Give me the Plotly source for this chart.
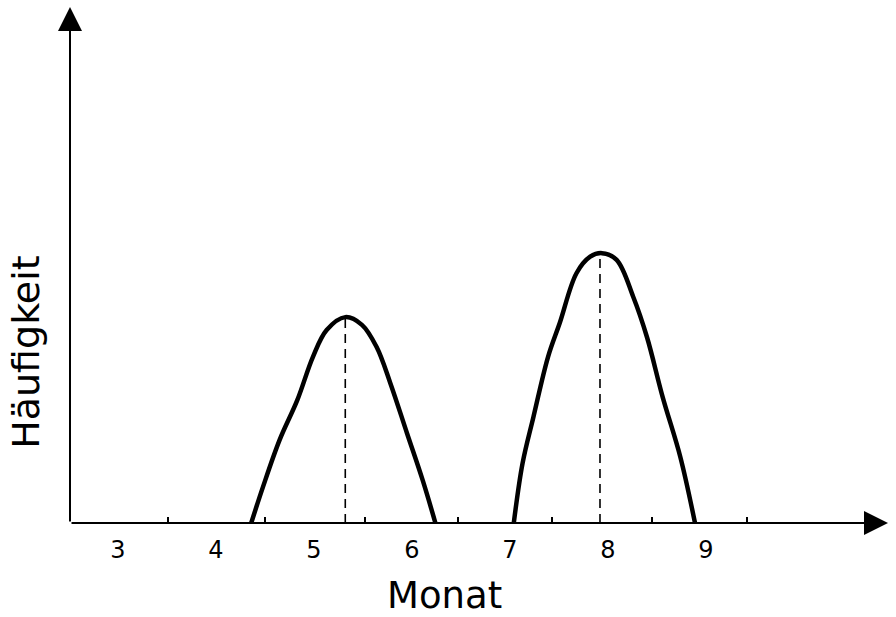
import plotly.graph_objects as go

# Zeitachse (Monat) und Häufigkeit (relative Einheiten, 0-100)
monat_a = [4.36, 4.48, 4.65, 4.83, 4.99, 5.13, 5.32, 5.49, 5.64, 5.78, 5.95, 6.11, 6.24]
haeuf_a = [0.0, 7.0, 16.1, 23.8, 32.2, 37.4, 39.9, 38.4, 34.1, 27.1, 17.4, 8.3, 0.0]

monat_b = [7.04, 7.13, 7.24, 7.39, 7.51, 7.68, 7.82, 7.94, 8.09, 8.26, 8.40, 8.56, 8.74, 8.89]
haeuf_b = [0.0, 11.6, 20.5, 32.2, 38.8, 48.4, 51.6, 52.3, 51.0, 43.8, 36.0, 24.4, 12.8, 0.0]

# Gipfel (gestrichelte Senkrechte)
gipfel_x = [5.32, 7.92]
gipfel_y = [39.9, 52.3]

monat_ticks = [3, 4, 5, 6, 7, 8, 9]
zwischen_ticks = [3.51, 4.5, 5.52, 6.47, 7.43, 8.45, 9.42]

X_MIN, X_MAX = 2.51, 10.86
Y_MAX = 100

fig = go.Figure()

# gestrichelte Linien unter den Gipfeln
for gx, gy in zip(gipfel_x, gipfel_y):
    fig.add_trace(go.Scatter(
        x=[gx, gx], y=[0, gy], mode="lines",
        line=dict(color="black", width=1.6, dash="9px,6px"),
        showlegend=False, hoverinfo="skip",
    ))

# die beiden Kurven
for mx, hy in [(monat_a, haeuf_a), (monat_b, haeuf_b)]:
    fig.add_trace(go.Scatter(
        x=mx, y=hy, mode="lines",
        line=dict(color="black", width=4.5, shape="spline", smoothing=1.0),
        showlegend=False, hoverinfo="skip",
    ))

# Achsen als Pfeile
fig.add_annotation(x=X_MAX, y=0, ax=X_MIN, ay=0, xref="x", yref="y",
                   axref="x", ayref="y", showarrow=True, arrowhead=2,
                   arrowsize=2.4, arrowwidth=2, arrowcolor="black", text="")
fig.add_annotation(x=X_MIN, y=Y_MAX, ax=X_MIN, ay=0, xref="x", yref="y",
                   axref="x", ayref="y", showarrow=True, arrowhead=2,
                   arrowsize=2.4, arrowwidth=2, arrowcolor="black", text="")

# Achsentitel
fig.add_annotation(text="Monat", x=0.458, y=-0.141, xref="paper", yref="paper",
                   xanchor="center", yanchor="middle", showarrow=False,
                   font=dict(family="DejaVu Sans", size=37, color="black"))
fig.add_annotation(text="Häufigkeit", x=-0.053, y=0.331, xref="paper", yref="paper",
                   xanchor="center", yanchor="middle", textangle=-90, showarrow=False,
                   font=dict(family="DejaVu Sans", size=38, color="black"))

fig.update_xaxes(
    range=[X_MIN, X_MAX], tickvals=monat_ticks, ticktext=[str(t) for t in monat_ticks],
    ticks="outside", ticklen=5, tickcolor="rgba(0,0,0,0)",
    tickfont=dict(family="DejaVu Sans", size=24, color="black"),
    minor=dict(tickvals=zwischen_ticks, ticks="inside", ticklen=6,
               tickcolor="black", tickwidth=1.5, showgrid=False),
    showgrid=False, zeroline=False, showline=False,
)
fig.update_yaxes(range=[0, Y_MAX], showticklabels=False, showgrid=False,
                 zeroline=False, showline=False, ticks="")

fig.update_layout(
    width=896, height=617,
    margin=dict(l=70, r=8, t=7, b=94),
    plot_bgcolor="white", paper_bgcolor="white",
)

fig.write_html("out.html", config={"displayModeBar": False},
               post_script="document.body.style.margin='0';")
